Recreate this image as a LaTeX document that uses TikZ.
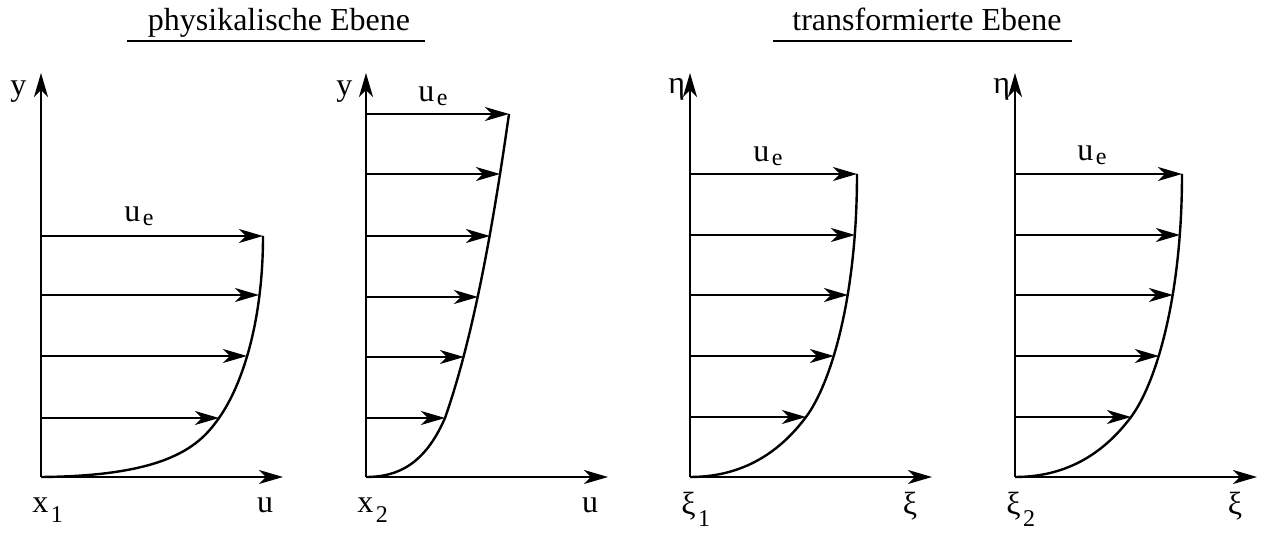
\documentclass[tikz,border=0pt]{standalone}
\usepackage{fontspec}
\setmainfont{Liberation Serif}
\usetikzlibrary{arrows.meta}
\newcommand{\lowsub}[2][5pt]{\kern1.2pt\raisebox{-#1}{\fontsize{12}{12}\selectfont #2}}

\begin{document}
\begin{tikzpicture}[x=0.5pt, y=-0.5pt, font=\fontsize{16}{19}\selectfont,
    >={Stealth[length=12pt, width=7pt, inset=3.5pt]},
    axis/.style={->, line width=1pt},
    vel/.style={->, line width=0.75pt},
    profile/.style={line width=1.2pt},
    lbl/.style={inner sep=0pt, anchor=base west},
    ctr/.style={inner sep=0pt, anchor=base}]
  \useasboundingbox (0,0) rectangle (1264,533);
  \node[ctr] (ttlPhys) at (279,31) {physikalische Ebene};
  \node[ctr] (ttlTrans) at (927,31) {transformierte Ebene};
  \draw[line width=1pt] (127,41) -- (425,41);
  \draw[line width=1pt] (773,41) -- (1072,41);

  \coordinate (oA) at (41,477);
  \coordinate (yA) at (41,73);
  \coordinate (xA) at (283,477);
  \coordinate (cA1) at (219,418);
  \coordinate (cA2) at (247,356);
  \coordinate (cA3) at (259,295);
  \coordinate (cA4) at (263,236);
  \draw[axis] (oA) -- (yA);
  \draw[axis] (oA) -- (xA);
  \draw[profile] (oA) .. controls (170,476) and (200,445) .. (cA1)
    .. controls (243,384) and (263,320) .. (cA4);
  \draw[vel] (oA |- cA1) -- (cA1);
  \draw[vel] (oA |- cA2) -- (cA2);
  \draw[vel] (oA |- cA3) -- (cA3);
  \draw[vel] (oA |- cA4) -- (cA4);
  \node[lbl] (yLblA) at (10,96) {y};
  \node[lbl] (ueA) at (124,222) {u\lowsub[2pt]{e}};
  \node[lbl] (xLblA) at (32,513) {x\lowsub{1}};
  \node[ctr] (uLblA) at (265,513) {u};

  \coordinate (oB) at (366,477);
  \coordinate (yB) at (366,73);
  \coordinate (xB) at (608,477);
  \coordinate (cB1) at (445,418);
  \coordinate (cB2) at (464,357);
  \coordinate (cB3) at (478,297);
  \coordinate (cB4) at (490,236);
  \coordinate (cB5) at (500,174);
  \coordinate (cB6) at (509,114);
  \draw[axis] (oB) -- (yB);
  \draw[axis] (oB) -- (xB);
  \draw[profile] (oB) .. controls (398,477) and (425,464) .. (cB1)
    .. controls (476,330) and (496,205) .. (cB6);
  \draw[vel] (oB |- cB1) -- (cB1);
  \draw[vel] (oB |- cB2) -- (cB2);
  \draw[vel] (oB |- cB3) -- (cB3);
  \draw[vel] (oB |- cB4) -- (cB4);
  \draw[vel] (oB |- cB5) -- (cB5);
  \draw[vel] (oB |- cB6) -- (cB6);
  \node[lbl] (yLblB) at (336,96) {y};
  \node[lbl] (ueB) at (418,102) {u\lowsub[2pt]{e}};
  \node[lbl] (xLblB) at (357,513) {x\lowsub{2}};
  \node[ctr] (uLblB) at (590,513) {u};

  \coordinate (oC) at (690,477);
  \coordinate (yC) at (690,73);
  \coordinate (xC) at (932,477);
  \coordinate (cC1) at (806,417);
  \coordinate (cC2) at (834,356);
  \coordinate (cC3) at (848,295);
  \coordinate (cC4) at (855,235);
  \coordinate (cC5) at (857,174);
  \draw[axis] (oC) -- (yC);
  \draw[axis] (oC) -- (xC);
  \draw[profile] (oC) .. controls (750,477) and (785,445) .. (cC1)
    .. controls (830,385) and (857,300) .. (cC5);
  \draw[vel] (oC |- cC1) -- (cC1);
  \draw[vel] (oC |- cC2) -- (cC2);
  \draw[vel] (oC |- cC3) -- (cC3);
  \draw[vel] (oC |- cC4) -- (cC4);
  \draw[vel] (oC |- cC5) -- (cC5);
  \node[lbl] (etaC) at (668,94) {η};
  \node[lbl] (ueC) at (753,162) {u\lowsub[2pt]{e}};
  \node[lbl] (xiLblC) at (681,515) {ξ\lowsub[6pt]{1}};
  \node[ctr] (xiC) at (910,515) {ξ};

  \coordinate (oD) at (1015,477);
  \coordinate (yD) at (1015,73);
  \coordinate (xD) at (1257,477);
  \coordinate (cD1) at (1131,417);
  \coordinate (cD2) at (1159,356);
  \coordinate (cD3) at (1173,295);
  \coordinate (cD4) at (1180,235);
  \coordinate (cD5) at (1182,174);
  \draw[axis] (oD) -- (yD);
  \draw[axis] (oD) -- (xD);
  \draw[profile] (oD) .. controls (1075,477) and (1110,445) .. (cD1)
    .. controls (1155,385) and (1182,300) .. (cD5);
  \draw[vel] (oD |- cD1) -- (cD1);
  \draw[vel] (oD |- cD2) -- (cD2);
  \draw[vel] (oD |- cD3) -- (cD3);
  \draw[vel] (oD |- cD4) -- (cD4);
  \draw[vel] (oD |- cD5) -- (cD5);
  \node[lbl] (etaD) at (993,94) {η};
  \node[lbl] (ueD) at (1077,161) {u\lowsub[2pt]{e}};
  \node[lbl] (xiLblD) at (1006,515) {ξ\lowsub[6pt]{2}};
  \node[ctr] (xiD) at (1235,515) {ξ};
\end{tikzpicture}
\end{document}
